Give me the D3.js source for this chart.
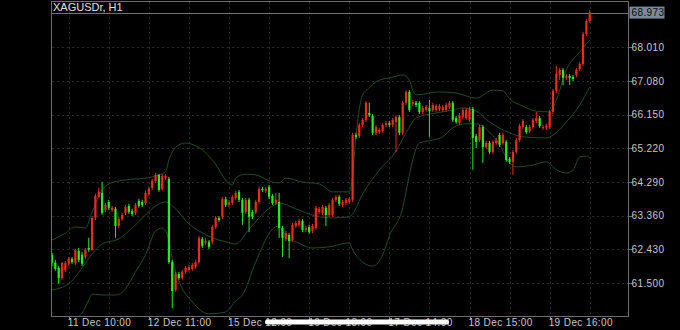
<!DOCTYPE html>
<html lang="en">
<head>
<meta charset="UTF-8">
<title>XAGUSDr, H1</title>
<script src="https://d3js.org/d3.v7.min.js"></script>
<style>
    body { margin: 0; background: #000; }
    svg { display: block; }
    .axis text { font-family: "Liberation Sans", Arial, sans-serif; font-size: 10px; fill: #c8c8c8; letter-spacing: 0.4px; }
</style>
</head>
<body>
<svg id="chart" width="680" height="330"></svg>
<script>
// ---- data (H1 candles, XAGUSDr) ----
var opens = [
    62.28, 62.06, 61.92, 61.64, 61.86, 62.03, 62.17, 62.06, 62.39, 62.28,
    62.22, 62.47, 62.42, 63.30, 63.88, 63.99, 63.52, 63.74, 63.52, 63.55,
    63.08, 63.27, 63.44, 63.63, 63.49, 63.44, 63.77, 63.74, 63.71, 63.96,
    64.13, 64.32, 64.49, 64.10, 64.40, 64.38, 62.08, 61.31, 61.75, 61.64,
    61.81, 61.86, 61.89, 61.95, 62.08, 62.72, 62.61, 62.64, 62.64, 63.05,
    63.30, 63.33, 63.82, 63.66, 63.71, 63.85, 64.02, 63.80, 63.46, 63.80,
    63.46, 63.46, 63.74, 64.10, 64.05, 64.16, 63.91, 63.71, 63.74, 63.02,
    62.72, 62.83, 62.69, 63.08, 63.11, 63.22, 62.97, 63.05, 62.94, 63.02,
    63.46, 63.44, 63.58, 63.38, 63.38, 63.80, 63.88, 63.66, 63.71, 63.74,
    63.80, 65.59, 65.56, 65.87, 66.01, 66.20, 66.12, 65.65, 65.67, 65.70,
    65.87, 65.92, 65.87, 65.95, 66.09, 65.65, 66.48, 66.78, 66.45, 66.48,
    66.48, 66.23, 66.28, 66.34, 66.28, 66.28, 66.31, 66.28, 66.28, 66.37,
    66.48, 66.06, 65.92, 66.09, 66.06, 66.01, 66.31, 65.56, 65.45, 65.81,
    65.26, 65.37, 65.12, 65.37, 65.59, 65.37, 65.40, 64.93, 64.85, 65.12,
    65.45, 65.81, 65.81, 65.70, 65.81, 65.98, 66.06, 65.79, 65.79, 65.81,
    66.23, 66.81, 67.25, 67.39, 67.17, 67.22, 67.19, 67.25, 67.41, 67.55,
    68.38, 68.74
];
var highs = [
    62.33, 62.14, 61.97, 62.08, 62.11, 62.22, 62.22, 62.44, 62.47, 62.36,
    62.47, 62.75, 63.35, 63.96, 64.13, 64.29, 63.71, 63.80, 63.63, 63.60,
    63.33, 63.44, 63.66, 63.69, 63.55, 63.71, 63.82, 63.80, 64.05, 64.16,
    64.38, 64.54, 64.51, 64.51, 64.51, 64.43, 62.14, 61.81, 61.81, 61.86,
    61.97, 62.00, 62.06, 62.14, 62.80, 62.77, 62.75, 62.69, 63.11, 63.35,
    63.35, 63.88, 63.88, 63.80, 63.93, 64.05, 64.07, 63.85, 63.85, 63.85,
    63.52, 63.80, 64.16, 64.16, 64.16, 64.21, 63.96, 63.99, 63.99, 63.08,
    62.94, 62.88, 63.16, 63.22, 63.27, 63.27, 63.08, 63.11, 63.13, 63.63,
    63.60, 63.66, 63.63, 63.71, 63.85, 63.93, 63.93, 63.80, 63.85, 63.88,
    65.65, 65.65, 65.92, 66.06, 66.53, 66.48, 66.17, 65.87, 65.79, 65.92,
    65.98, 65.98, 66.06, 66.14, 66.14, 66.53, 66.83, 66.83, 66.56, 66.53,
    66.53, 66.39, 66.42, 66.56, 66.48, 66.45, 66.45, 66.42, 66.48, 66.53,
    66.53, 66.12, 66.20, 66.34, 66.34, 66.37, 66.37, 65.62, 65.87, 65.87,
    65.43, 65.43, 65.45, 65.51, 65.65, 65.65, 65.45, 64.98, 65.18, 65.51,
    65.90, 66.03, 65.87, 65.87, 66.06, 66.23, 66.12, 65.87, 65.90, 66.28,
    66.86, 67.50, 67.44, 67.44, 67.28, 67.28, 67.25, 67.44, 67.61, 68.44,
    68.80, 69.04
];
var lows = [
    61.97, 61.84, 61.48, 61.59, 61.81, 61.97, 62.03, 62.00, 62.08, 61.97,
    62.17, 62.36, 62.39, 63.24, 63.85, 63.38, 63.46, 63.52, 63.46, 62.75,
    63.02, 63.22, 63.38, 63.41, 63.35, 63.38, 63.58, 63.60, 63.66, 63.91,
    64.07, 64.27, 64.02, 64.05, 64.35, 62.03, 60.81, 61.26, 61.59, 61.59,
    61.75, 61.81, 61.84, 61.89, 62.03, 62.47, 62.55, 62.44, 62.58, 63.00,
    63.19, 63.27, 63.60, 63.60, 63.66, 63.80, 63.74, 63.11, 63.41, 62.91,
    63.27, 63.41, 63.69, 64.02, 63.99, 63.82, 63.66, 63.66, 62.75, 62.22,
    62.66, 62.19, 62.64, 63.02, 63.05, 62.91, 62.91, 62.86, 62.88, 62.97,
    63.41, 63.38, 63.08, 63.33, 63.33, 63.74, 63.63, 63.60, 63.66, 63.69,
    63.74, 65.48, 65.51, 65.81, 65.95, 66.09, 65.59, 65.59, 65.62, 65.65,
    65.81, 65.81, 65.81, 65.12, 65.59, 65.59, 66.42, 66.23, 66.39, 66.36,
    66.17, 66.17, 66.23, 65.54, 66.23, 66.23, 66.25, 66.23, 66.23, 66.31,
    65.95, 65.90, 65.87, 66.03, 66.01, 65.95, 64.63, 65.23, 65.40, 64.82,
    65.20, 65.07, 65.07, 65.32, 65.26, 65.32, 64.85, 64.79, 64.49, 65.07,
    65.40, 65.76, 65.62, 65.65, 65.76, 65.92, 65.79, 65.73, 65.73, 65.76,
    66.17, 66.75, 67.11, 66.97, 67.11, 66.97, 67.08, 67.19, 67.36, 67.50,
    68.33, 68.69
];
var closes = [
    62.06, 61.89, 61.64, 62.06, 62.06, 62.17, 62.08, 62.42, 62.14, 62.03,
    62.42, 62.42, 63.30, 63.91, 64.02, 63.44, 63.66, 63.58, 63.58, 63.08,
    63.27, 63.38, 63.60, 63.46, 63.41, 63.66, 63.63, 63.66, 63.99, 64.10,
    64.32, 64.49, 64.07, 64.46, 64.46, 62.08, 61.28, 61.75, 61.64, 61.81,
    61.92, 61.95, 62.00, 62.08, 62.75, 62.53, 62.66, 62.50, 63.05, 63.30,
    63.24, 63.82, 63.66, 63.74, 63.88, 63.99, 63.80, 63.44, 63.80, 63.33,
    63.33, 63.74, 64.10, 64.07, 64.10, 63.88, 63.71, 63.80, 63.02, 62.75,
    62.88, 62.66, 63.11, 63.16, 63.22, 62.97, 63.02, 62.91, 63.08, 63.58,
    63.55, 63.60, 63.38, 63.66, 63.80, 63.88, 63.69, 63.74, 63.80, 63.82,
    65.59, 65.54, 65.87, 66.01, 66.48, 66.14, 65.65, 65.81, 65.73, 65.87,
    65.92, 65.87, 66.01, 66.09, 65.65, 66.48, 66.78, 66.28, 66.50, 66.42,
    66.23, 66.34, 66.37, 66.25, 66.42, 66.39, 66.39, 66.37, 66.42, 66.48,
    66.01, 65.95, 66.14, 66.28, 66.28, 66.31, 65.51, 65.40, 65.81, 65.26,
    65.37, 65.12, 65.40, 65.45, 65.32, 65.59, 64.90, 64.85, 65.12, 65.45,
    65.84, 65.98, 65.67, 65.81, 66.01, 66.06, 65.84, 65.81, 65.84, 66.23,
    66.81, 67.28, 67.39, 67.17, 67.22, 67.17, 67.14, 67.39, 67.55, 68.38,
    68.74, 68.973
];

// Bollinger bands: [bar index, price]
var bbUpper = [
    [0, 62.69], [4, 62.88], [7, 63.05], [10, 63.02], [12, 63.46], [14, 63.91], [17, 64.24],
    [22, 64.35], [28, 64.40], [32, 64.49], [34, 64.57], [35, 64.90], [36, 65.12], [38, 65.32],
    [40, 65.37], [43, 65.29], [45, 65.18], [48, 64.90], [54, 64.21], [55, 64.40], [58, 64.51],
    [61, 64.49], [66, 64.29], [68, 64.27], [70, 64.40], [75, 64.29], [80, 64.24], [84, 64.02],
    [89, 64.02], [90, 64.49], [91, 65.54], [93, 66.70], [95, 66.89], [97, 67.06], [102, 67.19],
    [105, 67.25], [107, 67.11], [108, 66.83], [109, 66.70], [116, 66.78], [121, 66.75], [127, 66.61],
    [132, 66.83], [135, 66.81], [137, 66.59], [141, 66.39], [145, 66.25], [149, 66.23], [151, 66.56],
    [154, 67.39], [158, 67.88], [161, 68.22]
];
var bbMiddle = [
    [0, 61.31], [5, 61.48], [9, 61.92], [12, 62.30], [15, 62.58], [20, 62.72], [24, 63.02],
    [28, 63.38], [31, 63.63], [34, 63.74], [35, 63.71], [37, 63.55], [41, 63.13], [44, 62.94],
    [48, 62.75], [52, 62.64], [55, 62.58], [59, 62.99], [62, 63.30], [66, 63.63], [68, 63.71],
    [73, 63.55], [79, 63.35], [84, 63.30], [89, 63.33], [90, 63.41], [93, 63.96], [98, 64.62],
    [103, 65.15], [106, 65.65], [109, 66.06], [115, 66.20], [120, 66.28], [123, 66.34], [127, 66.25],
    [131, 65.95], [137, 65.65], [141, 65.54], [148, 65.51], [150, 65.59], [154, 65.95], [158, 66.42],
    [161, 66.92]
];
var bbLower = [
    [0, 60.21], [5, 60.43], [9, 60.67], [11, 61.03], [12, 61.20], [15, 61.17], [19, 61.17],
    [22, 61.34], [25, 61.81], [28, 62.28], [31, 62.94], [33, 63.02], [35, 62.69], [36, 62.19],
    [38, 61.56], [42, 60.98], [47, 60.65], [52, 60.70], [55, 61.01], [57, 61.17], [61, 62.08],
    [66, 62.99], [68, 63.08], [70, 62.75], [73, 62.64], [78, 62.47], [83, 62.50], [89, 62.61],
    [90, 62.42], [93, 62.08], [96, 61.97], [99, 62.28], [101, 62.80], [105, 63.58], [107, 64.49],
    [108, 64.90], [110, 65.37], [114, 65.45], [117, 65.54], [120, 65.79], [124, 65.90], [127, 65.90],
    [131, 65.67], [134, 65.32], [137, 64.82], [139, 64.71], [144, 64.76], [148, 64.85], [151, 64.63],
    [154, 64.54], [156, 64.63], [158, 64.98], [160, 65.01], [161, 64.96]
];

var priceTicks = [61.500, 62.430, 63.360, 64.290, 65.220, 66.150, 67.080, 68.010];
var timeTickIdx = [5, 29, 53, 77, 101, 125, 149];
var timeTickLabels = ["11 Dec 10:00", "12 Dec 11:00", "15 Dec 12:00", "16 Dec 13:00",
                      "17 Dec 14:00", "18 Dec 15:00", "19 Dec 16:00"];
var lastPrice = 68.973;
var symbolTitle = "XAGUSDr, H1";

// ---- layout ----
var config = {
    "left": 51.5,
    "right": 628.5,
    "top": 1.5,
    "bottom": 316.5,
    "bar_step": 3.34,
    "first_bar_x": 52,
    "body_width": 2.2,
    "bull_color": "#f02a1a",
    "bear_color": "#1ff21f",
    "band_color": "#1e4d2b",
    "grid_color": "#2a2a2a",
    "border_color": "#6e6e6e",
    "text_color": "#c8c8c8"
};

var svg = d3.select("#chart");

var xScale = d3.scaleLinear()
    .domain([0, 161])
    .range([config.first_bar_x, config.first_bar_x + 161 * config.bar_step]);

var yScale = d3.scaleLinear()
    .domain([60.59, 69.265])
    .range([316, 2]);

svg.append("rect").attr("width", 680).attr("height", 330).attr("fill", "#000");

svg.append("clipPath").attr("id", "plotClip")
    .append("rect")
    .attr("x", config.left)
    .attr("y", config.top)
    .attr("width", config.right - config.left)
    .attr("height", config.bottom - config.top);

// grid
var grid = svg.append("g").attr("shape-rendering", "crispEdges");
grid.selectAll("line.h")
    .data(priceTicks)
    .enter().append("line")
    .attr("x1", config.left).attr("x2", config.right)
    .attr("y1", function(d){ return Math.round(yScale(d)) + 0.5; })
    .attr("y2", function(d){ return Math.round(yScale(d)) + 0.5; })
    .attr("stroke", config.grid_color)
    .attr("stroke-dasharray", "2,3");

var vGrid = d3.range(5, 170, 12).filter(function(i){ return xScale(i) < config.right; });
grid.selectAll("line.v")
    .data(vGrid)
    .enter().append("line")
    .attr("y1", config.top).attr("y2", config.bottom)
    .attr("x1", function(d){ return Math.round(xScale(d)) + 0.5; })
    .attr("x2", function(d){ return Math.round(xScale(d)) + 0.5; })
    .attr("stroke", config.grid_color)
    .attr("stroke-dasharray", "2,3");

var plot = svg.append("g").attr("clip-path", "url(#plotClip)");

// bollinger bands
var bandLine = d3.line()
    .x(function(d){ return xScale(d[0]); })
    .y(function(d){ return yScale(d[1]); })
    .curve(d3.curveMonotoneX);

[bbUpper, bbMiddle, bbLower].forEach(function(band){
    plot.append("path")
        .datum(band)
        .attr("d", bandLine)
        .attr("fill", "none")
        .attr("stroke", config.band_color)
        .attr("stroke-width", 1);
});

// current price line
plot.append("line")
    .attr("x1", config.left).attr("x2", config.right)
    .attr("y1", Math.round(yScale(lastPrice)) + 0.5)
    .attr("y2", Math.round(yScale(lastPrice)) + 0.5)
    .attr("stroke", "#707070")
    .attr("shape-rendering", "crispEdges");

// candles
var candles = d3.range(opens.length).map(function(i){
    return {i: i, o: opens[i], h: highs[i], l: lows[i], c: closes[i]};
});

var cg = plot.selectAll("g.candle")
    .data(candles)
    .enter().append("g")
    .attr("class", "candle");

cg.append("line")
    .attr("x1", function(d){ return xScale(d.i); })
    .attr("x2", function(d){ return xScale(d.i); })
    .attr("y1", function(d){ return yScale(d.h); })
    .attr("y2", function(d){ return yScale(d.l); })
    .attr("stroke", function(d){ return d.c >= d.o ? config.bull_color : config.bear_color; })
    .attr("stroke-width", 1);

cg.append("rect")
    .attr("x", function(d){ return xScale(d.i) - config.body_width / 2; })
    .attr("width", config.body_width)
    .attr("y", function(d){ return yScale(Math.max(d.o, d.c)); })
    .attr("height", function(d){ return Math.max(1, Math.abs(yScale(d.o) - yScale(d.c))); })
    .attr("fill", function(d){ return d.c >= d.o ? config.bull_color : config.bear_color; });

// border
svg.append("rect")
    .attr("x", config.left).attr("y", config.top)
    .attr("width", config.right - config.left)
    .attr("height", config.bottom - config.top)
    .attr("fill", "none")
    .attr("stroke", config.border_color)
    .attr("shape-rendering", "crispEdges");

// price axis
var yAxis = svg.append("g").attr("class", "axis");
yAxis.selectAll("line")
    .data(priceTicks)
    .enter().append("line")
    .attr("x1", config.right).attr("x2", config.right + 3)
    .attr("y1", function(d){ return Math.round(yScale(d)) + 0.5; })
    .attr("y2", function(d){ return Math.round(yScale(d)) + 0.5; })
    .attr("stroke", config.border_color)
    .attr("shape-rendering", "crispEdges");
yAxis.selectAll("text")
    .data(priceTicks)
    .enter().append("text")
    .attr("x", config.right + 3)
    .attr("y", function(d){ return yScale(d) + 3.5; })
    .text(function(d){ return d.toFixed(3); });

// last price tag
svg.append("rect")
    .attr("x", config.right + 1).attr("y", yScale(lastPrice) - 6)
    .attr("width", 35).attr("height", 12)
    .attr("fill", "#7a8a9a");
svg.append("text")
    .attr("class", "tag")
    .attr("x", config.right + 3)
    .attr("y", yScale(lastPrice) + 3.5)
    .attr("font-family", "Liberation Sans, Arial, sans-serif")
    .attr("font-size", "10px")
    .attr("letter-spacing", "0.4px")
    .attr("fill", "#0a0a0a")
    .text(lastPrice.toFixed(3));

// time axis
var xAxis = svg.append("g").attr("class", "axis");
xAxis.selectAll("line")
    .data(timeTickIdx)
    .enter().append("line")
    .attr("x1", function(d){ return Math.round(xScale(d)) + 0.5; })
    .attr("x2", function(d){ return Math.round(xScale(d)) + 0.5; })
    .attr("y1", config.bottom).attr("y2", config.bottom + 3)
    .attr("stroke", config.border_color)
    .attr("shape-rendering", "crispEdges");
xAxis.selectAll("text")
    .data(timeTickIdx)
    .enter().append("text")
    .attr("x", function(d){ return xScale(d) - 1; })
    .attr("y", 326)
    .text(function(d, k){ return timeTickLabels[k]; });

// title
svg.append("text")
    .attr("x", 53).attr("y", 11)
    .attr("font-family", "Liberation Sans, Arial, sans-serif")
    .attr("font-size", "11px")
    .attr("fill", "#e0e0e0")
    .text(symbolTitle);

// home indicator overlay
svg.append("rect")
    .attr("x", 265).attr("y", 319.5)
    .attr("width", 184).attr("height", 5)
    .attr("rx", 2.5)
    .attr("fill", "#ffffff");
</script>
</body>
</html>
